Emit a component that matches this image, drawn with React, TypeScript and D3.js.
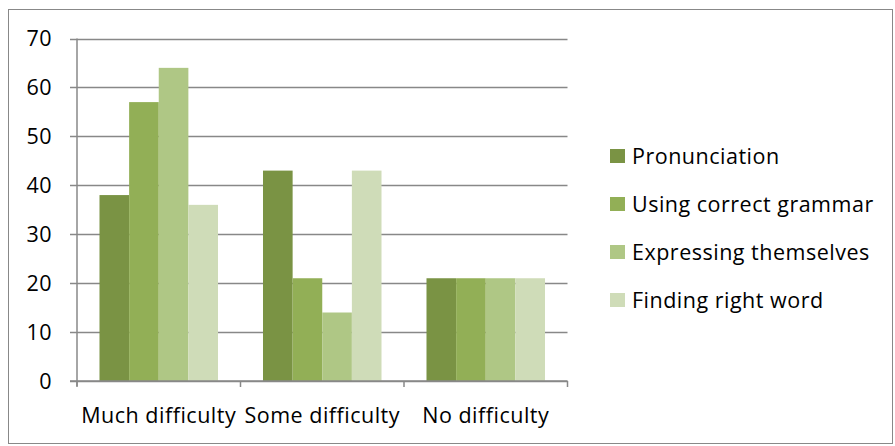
import React from "react";
import * as d3 from "d3";

const categories = ["Much difficulty", "Some difficulty", "No difficulty"];
const series = ["Pronunciation", "Using correct grammar", "Expressing themselves", "Finding right word"];
const values: number[][] = [
  [38, 43, 21],
  [57, 21, 21],
  [64, 14, 21],
  [36, 43, 21],
];
const yTicks = [0, 10, 20, 30, 40, 50, 60, 70];
const colors = ["#7A9344", "#92AF56", "#AFC785", "#CFDCB8"];

const W = 895;
const H = 446;
const left = 77;
const right = 567.5;
const top = 38.5;
const bottom = 381;
const font = "'Open Sans', sans-serif";
const fontSize = 21.5;
const ls = 0.5;
const axisColor = "#888888";

export default function App() {
  const x = d3.scaleBand<string>().domain(categories).range([left, right]).paddingInner(0).paddingOuter(0);
  const bw = x.bandwidth();
  const inner = d3.scaleBand<string>().domain(series).range([bw * 0.1376, bw * (1 - 0.1376)]).padding(0);
  const y = d3.scaleLinear().domain([0, 70]).range([bottom, top]);

  return (
    <svg width={W} height={H} style={{ position: "absolute", left: 0, top: 0 }}>
      <rect x={0} y={0} width={W} height={H} fill="#ffffff" />
      <rect x={8.5} y={9.5} width={884} height={434} fill="none" stroke={axisColor} strokeWidth={1} />
      {yTicks.map((t) => (
        <g key={t}>
          <line x1={70} x2={right} y1={Math.round(y(t)) + 0.5} y2={Math.round(y(t)) + 0.5} stroke={axisColor} strokeWidth={1.5} />
          <text x={52} y={y(t)} dy="0.36em" textAnchor="end" fontFamily={font} fontSize={fontSize} letterSpacing={ls} fill="#000">
            {t}
          </text>
        </g>
      ))}
      {categories.map((c, ci) =>
        series.map((s, si) => (
          <rect
            key={c + s}
            x={(x(c) as number) + (inner(s) as number)}
            y={y(values[si][ci])}
            width={inner.bandwidth()}
            height={y(0) - y(values[si][ci])}
            fill={colors[si]}
          />
        ))
      )}
      <line x1={left} x2={left} y1={top} y2={bottom + 5} stroke={axisColor} strokeWidth={1.5} />
      <line x1={70} x2={right} y1={bottom} y2={bottom} stroke={axisColor} strokeWidth={1.5} />
      {[...categories.map((c) => x(c) as number), right].map((v, i) => (
        <line key={i} x1={v} x2={v} y1={bottom} y2={bottom + 6} stroke={axisColor} strokeWidth={1.5} />
      ))}
      {categories.map((c) => (
        <text key={c} x={(x(c) as number) + bw / 2} y={423} textAnchor="middle" fontFamily={font} fontSize={fontSize} letterSpacing={ls} fill="#000">
          {c}
        </text>
      ))}
      {series.map((s, i) => (
        <g key={s} transform={`translate(0, ${156 + i * 48})`}>
          <rect x={610} y={-7} width={15} height={14} fill={colors[i]} />
          <text x={632} y={0} dy="0.36em" fontFamily={font} fontSize={fontSize} letterSpacing={ls} fill="#000">
            {s}
          </text>
        </g>
      ))}
    </svg>
  );
}
